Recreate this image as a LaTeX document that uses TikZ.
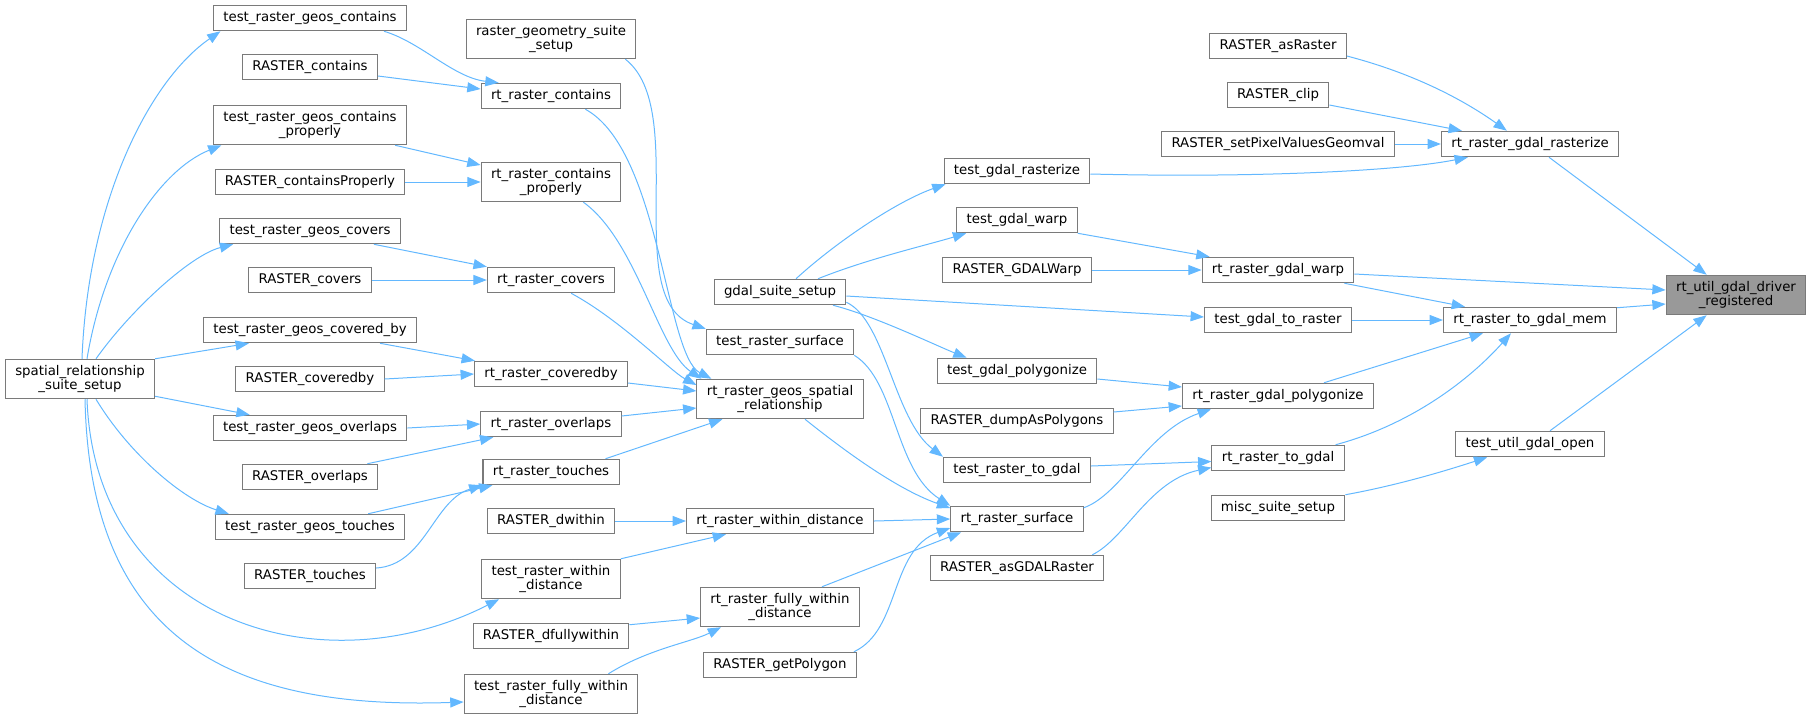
\documentclass[tikz,border=0pt]{standalone}
\usepackage{fontspec}
\setmainfont{DejaVu Sans}
\usetikzlibrary{arrows.meta,calc}
\definecolor{linkblue}{HTML}{63B8FF}
\definecolor{boxgray}{HTML}{7A7A7A}
\definecolor{mainfill}{HTML}{999999}

\begin{document}
\begin{tikzpicture}[x=0.75pt,y=-0.75pt,
    fn/.style={draw=boxgray, fill=white, line width=0.8pt, inner xsep=7.4pt, inner ysep=4.3pt,
        minimum height=19.1pt, align=center, font=\fontsize{10}{11}\selectfont},
    mainfn/.style={fn, fill=mainfill},
    call/.style={draw=linkblue, line width=0.75pt, -{Triangle[length=10pt,width=7.5pt]}}]
    \useasboundingbox (0,0) rectangle (1812,719);

    % Column 1
    \node[fn] (srs) at (80,379) {spatial\_relationship\\\_suite\_setup};

    % Column 2
    \node[fn] (tgc)  at (310,18)  {test\_raster\_geos\_contains};
    \node[fn] (Rc)   at (310,67)  {RASTER\_contains};
    \node[fn] (tgcp) at (310,125) {test\_raster\_geos\_contains\\\_properly};
    \node[fn] (Rcp)  at (310,182) {RASTER\_containsProperly};
    \node[fn] (tgcv) at (310,231) {test\_raster\_geos\_covers};
    \node[fn] (Rcv)  at (310,280) {RASTER\_covers};
    \node[fn] (tgcb) at (310,330) {test\_raster\_geos\_covered\_by};
    \node[fn] (Rcb)  at (310,379) {RASTER\_coveredby};
    \node[fn] (tgo)  at (310,428) {test\_raster\_geos\_overlaps};
    \node[fn] (Ro)   at (310,477) {RASTER\_overlaps};
    \node[fn] (tgt)  at (310,527) {test\_raster\_geos\_touches};
    \node[fn] (Rt)   at (310,576) {RASTER\_touches};

    % Column 3
    \node[fn] (rgs)  at (551,39)  {raster\_geometry\_suite\\\_setup};
    \node[fn] (rc)   at (551,96)  {rt\_raster\_contains};
    \node[fn] (rcp)  at (551,182) {rt\_raster\_contains\\\_properly};
    \node[fn] (rcv)  at (551,280) {rt\_raster\_covers};
    \node[fn] (rcb)  at (551,374) {rt\_raster\_coveredby};
    \node[fn] (ro)   at (551,424) {rt\_raster\_overlaps};
    \node[fn] (rt)   at (551,472) {rt\_raster\_touches};
    \node[fn] (Rdw)  at (551,521) {RASTER\_dwithin};
    \node[fn] (twd)  at (551,579) {test\_raster\_within\\\_distance};
    \node[fn] (Rdfw) at (551,636) {RASTER\_dfullywithin};
    \node[fn] (tfwd) at (551,694) {test\_raster\_fully\_within\\\_distance};

    % Column 4
    \node[fn] (gss)  at (780,292) {gdal\_suite\_setup};
    \node[fn] (trs)  at (780,342) {test\_raster\_surface};
    \node[fn] (rgsr) at (780,399) {rt\_raster\_geos\_spatial\\\_relationship};
    \node[fn] (rwd)  at (780,521) {rt\_raster\_within\_distance};
    \node[fn] (rfwd) at (780,607) {rt\_raster\_fully\_within\\\_distance};
    \node[fn] (Rgp)  at (780,665) {RASTER\_getPolygon};

    % Column 5
    \node[fn] (tgr)  at (1017,171) {test\_gdal\_rasterize};
    \node[fn] (tgw)  at (1017,220) {test\_gdal\_warp};
    \node[fn] (RGW)  at (1017,270) {RASTER\_GDALWarp};
    \node[fn] (tgp)  at (1017,371) {test\_gdal\_polygonize};
    \node[fn] (Rdp)  at (1017,421) {RASTER\_dumpAsPolygons};
    \node[fn] (trtg) at (1017,470) {test\_raster\_to\_gdal};
    \node[fn] (rs)   at (1017,519) {rt\_raster\_surface};
    \node[fn] (RaG)  at (1017,568) {RASTER\_asGDALRaster};

    % Column 6
    \node[fn] (RaR)   at (1278,46)  {RASTER\_asRaster};
    \node[fn] (Rclip) at (1278,95)  {RASTER\_clip};
    \node[fn] (Rspv)  at (1278,144) {RASTER\_setPixelValuesGeomval};
    \node[fn] (rgw)   at (1278,270) {rt\_raster\_gdal\_warp};
    \node[fn] (tgtr)  at (1278,320) {test\_gdal\_to\_raster};
    \node[fn] (rgp)   at (1278,396) {rt\_raster\_gdal\_polygonize};
    \node[fn] (rtg)   at (1278,458) {rt\_raster\_to\_gdal};
    \node[fn] (mss)   at (1278,508) {misc\_suite\_setup};

    % Column 7
    \node[fn] (rgr)  at (1530,144) {rt\_raster\_gdal\_rasterize};
    \node[fn] (rtgm) at (1530,320) {rt\_raster\_to\_gdal\_mem};
    \node[fn] (tugo) at (1530,444) {test\_util\_gdal\_open};

    % Called function
    \node[mainfn] (drv) at (1736,295) {rt\_util\_gdal\_driver\\\_registered};

    % Suite setup fan-out
    \draw[call] ($(srs.north)+(2,0)$) .. controls +(6,-158) and +(-71,49) .. ($(tgc.south west)+(7.5,0)$);
    \draw[call] ($(srs.north)+(7,0)$) .. controls +(18,-108) and +(-62,25) .. ($(tgcp.south west)+(8.5,0)$);
    \draw[call] ($(srs.north)+(16,0)$) .. controls +(34,-48) and +(-43,11) .. ($(tgcv.south west)+(14,0)$);
    \draw[call] (srs.north east) -- ($(tgcb.south west)+(46,0)$);
    \draw[call] ($(srs.south east)+(0,-3)$) -- ($(tgo.north west)+(37,0)$);
    \draw[call] ($(srs.south)+(16,0)$) .. controls +(34,56) and +(-45,-14) .. ($(tgt.north west)+(14,0)$);
    \draw[call] ($(srs.south)+(7,0)$) .. controls +(8,221) and +(-179,91) .. ($(twd.south west)+(18,0)$);
    \draw[call] ($(srs.south)+(5,0)$) .. controls +(5,241) and +(-233,8) .. ($(tfwd.west)+(0,8)$);

    % Column 2 to column 3
    \draw[call] ($(tgc.south east)+(-23,0)$) .. controls +(37,11) and +(-45,-5) .. ($(rc.north west)+(18,0)$);
    \draw[call] ($(Rc.east)+(0,9)$) -- ($(rc.west)+(0,-7)$);
    \draw[call] ($(tgcp.south east)+(-12,0)$) -- ($(rcp.west)+(0,-17)$);
    \draw[call] (Rcp.east) -- (rcp.west);
    \draw[call] ($(tgcv.south east)+(-27,0)$) -- (rcv.north west);
    \draw[call] (Rcv.east) -- (rcv.west);
    \draw[call] ($(tgcb.south east)+(-37,0)$) -- ($(rcb.north west)+(1,0)$);
    \draw[call] (Rcb.east) -- (rcb.west);
    \draw[call] (tgo.east) -- (ro.west);
    \draw[call] ($(Ro.north east)+(-11,0)$) -- ($(ro.south west)+(13,0)$);
    \draw[call] ($(tgt.north east)+(-37,0)$) -- ($(rt.south west)+(10,0)$);
    \draw[call] ($(Rt.east)+(0,-8)$) .. controls +(49,-3) and +(-49,15) .. (rt.south west);

    % Column 3 to column 4
    \draw[call] (Rdw.east) -- (rwd.west);
    \draw[call] (twd.north east) -- ($(rwd.south west)+(40,0)$);
    \draw[call] ($(Rdfw.north east)+(0,2)$) -- ($(rfwd.west)+(0,11)$);
    \draw[call] ($(tfwd.north east)+(-30,0)$) .. controls +(40,-25) and +(-30,15) .. ($(rfwd.south west)+(21,0)$);
    \draw[call] ($(rc.south east)+(-36,0)$) .. controls +(75,41) and +(-46,-24) .. ($(rgsr.north west)+(15,0)$);
    \draw[call] ($(rcp.south east)+(-38,0)$) .. controls +(53,38) and +(-43,-29) .. ($(rgsr.north west)+(5,0)$);
    \draw[call] ($(rcv.south east)+(-44,0)$) .. controls +(50,27) and +(-26,-14) .. ($(rgsr.west)+(0,-14)$);
    \draw[call] ($(rcb.east)+(0,9)$) -- ($(rgsr.west)+(0,-8)$);
    \draw[call] ($(ro.east)+(0,-8)$) -- ($(rgsr.west)+(0,9)$);
    \draw[call] ($(rt.north east)+(-14,0)$) -- ($(rgsr.south west)+(26,0)$);
    \draw[call] ($(rgs.south east)+(-11,0)$) .. controls +(65,51) and +(-86,-29) .. (trs.north west);

    % Into rt_raster_surface
    \draw[call] ($(rgsr.south)+(25,0)$) .. controls +(45,36) and +(-51,-18) .. ($(rs.west)+(0,-11)$);
    \draw[call] (rwd.east) -- (rs.west);
    \draw[call] ($(rfwd.north east)+(-38,0)$) -- ($(rs.south west)+(11,0)$);
    \draw[call] ($(Rgp.north east)+(-3,0)$) .. controls +(47,-22) and +(-61,22) .. ($(rs.west)+(0,9)$);
    \draw[call] (trs.south east) .. controls +(42,26) and +(-56,-36) .. (rs.north west);

    % gdal suite setup
    \draw[call] ($(gss.south east)+(0,-3)$) .. controls +(39,18) and +(-49,-37) .. (trtg.north west);
    \draw[call] ($(gss.north)+(16,0)$) .. controls +(44,-40) and +(-46,16) .. ($(tgr.south west)+(2,0)$);
    \draw[call] ($(gss.north)+(38,0)$) .. controls +(50,-20) and +(-40,12) .. ($(tgw.south west)+(10,0)$);
    \draw[call] ($(gss.east)+(0,4)$) -- ($(tgtr.west)+(0,-3)$);
    \draw[call] ($(gss.south)+(53,0)$) .. controls +(40,10) and +(-30,-12) .. ($(tgp.north west)+(30,0)$);

    % Column 5 to column 6
    \draw[call] ($(tgr.east)+(0,3)$) .. controls +(160,4) and +(-70,14) .. ($(rgr.south west)+(27,0)$);
    \draw[call] (tgw.south east) -- ($(rgw.north west)+(8,0)$);
    \draw[call] (RGW.east) -- (rgw.west);
    \draw[call] ($(tgp.east)+(0,8)$) -- ($(rgp.west)+(0,-9)$);
    \draw[call] ($(Rdp.east)+(0,-9)$) -- ($(rgp.west)+(0,10)$);
    \draw[call] ($(trtg.east)+(0,-4)$) -- ($(rtg.west)+(0,3.5)$);
    \draw[call] ($(rs.north east)+(0,2)$) .. controls +(37,-13) and +(-62,21) .. ($(rgp.south west)+(29,0)$);
    \draw[call] ($(RaG.north east)+(-12,0)$) .. controls +(33,-16) and +(-62,13) .. ($(rtg.west)+(0,9.5)$);

    % Column 6 to column 7
    \draw[call] ($(RaR.east)+(0,10)$) .. controls +(73,19) and +(-38,-27) .. ($(rgr.north west)+(66,0)$);
    \draw[call] ($(Rclip.east)+(0,10)$) -- ($(rgr.north west)+(21,0)$);
    \draw[call] (Rspv.east) -- (rgr.west);
    \draw[call] ($(rgw.south east)+(-10,0)$) -- ($(rtgm.north west)+(22,0)$);
    \draw[call] (tgtr.east) -- (rtgm.west);
    \draw[call] ($(rgp.north east)+(-50,0)$) -- ($(rtgm.south west)+(40,0)$);
    \draw[call] ($(rtg.north east)+(-9,0)$) .. controls +(75,-20) and +(-42,47) .. ($(rtgm.south west)+(68,0)$);
    \draw[call] (mss.north east) .. controls +(55,-10) and +(-37,12) .. ($(tugo.south west)+(32,0)$);

    % Into rt_util_gdal_driver_registered
    \draw[call] ($(rgr.south)+(19,0)$) -- ($(drv.north west)+(41,0)$);
    \draw[call] ($(rgw.east)+(0,4)$) -- ($(drv.west)+(0,-5)$);
    \draw[call] ($(rtgm.north east)+(0,1)$) -- ($(drv.west)+(0,9)$);
    \draw[call] ($(tugo.north)+(20,0)$) -- ($(drv.south west)+(41,0)$);
\end{tikzpicture}
\end{document}
